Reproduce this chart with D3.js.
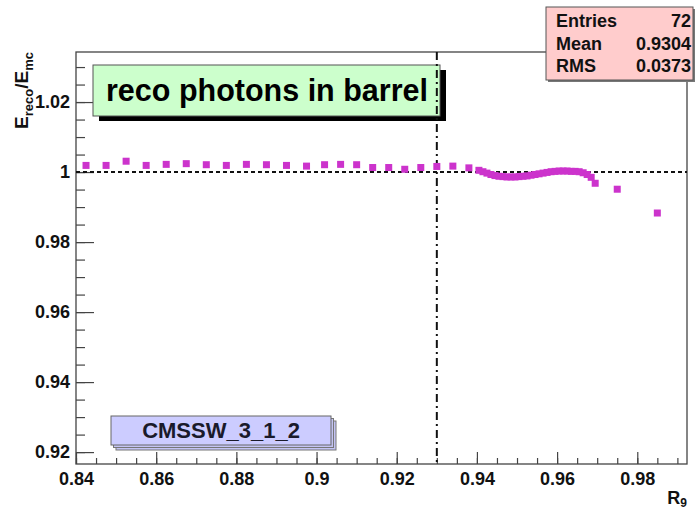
<!DOCTYPE html>
<html>
<head>
<meta charset="utf-8">
<script src="https://cdn.jsdelivr.net/npm/d3@7"></script>
<style>
  body { margin: 0; background: #fff; }
  svg { display: block; font-family: "Liberation Sans", Arial, sans-serif; font-weight: bold; }
</style>
</head>
<body>
<svg id="chart" width="696" height="509"></svg>
<script>
// --------------- Data ---------------
const R9 = [
  0.8425, 0.8475, 0.8525, 0.8575, 0.8625, 0.8675, 0.8725, 0.8775, 0.8825, 0.8875,
  0.8925, 0.8975, 0.902, 0.906, 0.910, 0.914, 0.918, 0.922, 0.926, 0.930, 0.934, 0.938,
  0.9405, 0.9415, 0.9425, 0.9435, 0.9445, 0.9455, 0.9465, 0.9475, 0.9485, 0.9495,
  0.9505, 0.9515, 0.9525, 0.9535, 0.9545, 0.9555, 0.9565, 0.9575, 0.9585, 0.9595,
  0.9605, 0.9615, 0.9625, 0.9635, 0.9645, 0.9655, 0.9665, 0.9675, 0.9685, 0.9695,
  0.975, 0.985
];
const RATIO = [
  1.0019, 1.0019, 1.0031, 1.0019, 1.0022, 1.0024, 1.0021, 1.0019, 1.0022, 1.0021,
  1.0019, 1.0017, 1.0021, 1.0022, 1.0021, 1.0013, 1.0013, 1.0008, 1.0013, 1.0016, 1.0017, 1.0012,
  1.0005, 1.0001, 0.9997, 0.9993, 0.9990, 0.9988, 0.9987, 0.9986, 0.9986, 0.9986,
  0.9987, 0.9988, 0.9989, 0.9991, 0.9993, 0.9995, 0.9997, 0.9999, 1.0001, 1.0002,
  1.0003, 1.0003, 1.0003, 1.0002, 1.0002, 1.0001, 0.9998, 0.9993, 0.9985, 0.9968,
  0.9951, 0.9883
];
const X_TICKS = [0.84, 0.86, 0.88, 0.90, 0.92, 0.94, 0.96, 0.98];
const Y_TICKS = [0.92, 0.94, 0.96, 0.98, 1.00, 1.02];
const X_MINOR = d3.range(0, 31).map((i) => 0.84 + i * 0.005).filter((v) => v < 0.9924);
const Y_MINOR = d3.range(0, 23).map((i) => 0.92 + i * 0.005).filter((v) => v < 1.0343);
const STATS = [["Entries", "72"], ["Mean", "0.9304"], ["RMS", "0.0373"]];
const CUT_R9 = 0.93;
const TITLE = "reco photons in barrel";
const RELEASE = "CMSSW_3_1_2";

// --------------- Layout ---------------
const FRAME = { left: 76, right: 687, top: 52, bottom: 464 };

const svg = d3.select("#chart");

const x = d3.scaleLinear().domain([0.84, 0.9924]).range([FRAME.left, FRAME.right]);
const y = d3.scaleLinear().domain([0.9166, 1.0343]).range([FRAME.bottom, FRAME.top]);

const fmt = (d) => String(+d.toFixed(2));

// frame
svg.append("rect")
  .attr("x", FRAME.left).attr("y", FRAME.top)
  .attr("width", FRAME.right - FRAME.left).attr("height", FRAME.bottom - FRAME.top)
  .attr("fill", "#fff").attr("stroke", "#444").attr("stroke-width", 1.3);

// minor ticks (inside the frame)
svg.append("g")
  .attr("transform", `translate(0,${FRAME.bottom})`)
  .call(d3.axisBottom(x).tickValues(X_MINOR).tickSize(-6).tickFormat(""))
  .call((g) => g.select(".domain").remove());
svg.append("g")
  .attr("transform", `translate(${FRAME.left},0)`)
  .call(d3.axisLeft(y).tickValues(Y_MINOR).tickSize(-9).tickFormat(""))
  .call((g) => g.select(".domain").remove());

// major ticks + labels
const xAxis = svg.append("g")
  .attr("transform", `translate(0,${FRAME.bottom})`)
  .call(d3.axisBottom(x).tickValues(X_TICKS).tickSize(-12).tickPadding(8).tickFormat(fmt));
const yAxis = svg.append("g")
  .attr("transform", `translate(${FRAME.left},0)`)
  .call(d3.axisLeft(y).tickValues(Y_TICKS).tickSize(-18).tickPadding(6).tickFormat(fmt));

[xAxis, yAxis].forEach((g) => {
  g.select(".domain").remove();
  g.selectAll("text").attr("font-size", 18).attr("font-weight", "bold")
    .attr("font-family", "Liberation Sans, Arial, sans-serif").attr("fill", "#111");
});
svg.selectAll(".tick line").attr("stroke", "#444").attr("stroke-width", 1.2);

// axis titles
const yTitle = svg.append("text")
  .attr("transform", `translate(28,${FRAME.top}) rotate(-90)`)
  .attr("text-anchor", "end").attr("font-size", 19).attr("fill", "#111");
yTitle.append("tspan").text("E");
yTitle.append("tspan").attr("font-size", 13).attr("dy", 5).text("reco");
yTitle.append("tspan").attr("dy", -5).text("/E");
yTitle.append("tspan").attr("font-size", 13).attr("dy", 5).text("mc");

const xTitle = svg.append("text")
  .attr("x", FRAME.right).attr("y", 504)
  .attr("text-anchor", "end").attr("font-size", 18).attr("fill", "#111");
xTitle.append("tspan").text("R");
xTitle.append("tspan").attr("font-size", 12).attr("dy", 3).text("9");

// reference lines
svg.append("line")
  .attr("x1", FRAME.left).attr("x2", FRAME.right)
  .attr("y1", y(1)).attr("y2", y(1))
  .attr("stroke", "#111").attr("stroke-width", 2).attr("stroke-dasharray", "4,3");

// title pave
const tb = { x: 93, y: 65, w: 347, h: 51 };
svg.append("rect")
  .attr("x", tb.x + 6).attr("y", tb.y + 5).attr("width", tb.w).attr("height", tb.h)
  .attr("fill", "#000");
svg.append("rect")
  .attr("x", tb.x).attr("y", tb.y).attr("width", tb.w).attr("height", tb.h)
  .attr("fill", "#ccffcc").attr("stroke", "#555").attr("stroke-width", 1);
svg.append("text")
  .attr("x", tb.x + 13).attr("y", tb.y + 36)
  .attr("font-size", 30.5).attr("fill", "#000").text(TITLE);

svg.append("line")
  .attr("x1", x(CUT_R9)).attr("x2", x(CUT_R9))
  .attr("y1", FRAME.top).attr("y2", FRAME.bottom)
  .attr("stroke", "#111").attr("stroke-width", 2).attr("stroke-dasharray", "8,4,2,4");

// points
svg.append("g")
  .selectAll("rect")
  .data(R9.map((r, i) => [r, RATIO[i]]))
  .join("rect")
  .attr("x", (d) => x(d[0]) - 3.5)
  .attr("y", (d) => y(d[1]) - 3.5)
  .attr("width", 7).attr("height", 7)
  .attr("fill", "#cc33cc");

// release label
const cb = { x: 111, y: 416, w: 220, h: 29 };
[5, 2.5].forEach((off) => {
  svg.append("rect")
    .attr("x", cb.x + off).attr("y", cb.y + off).attr("width", cb.w).attr("height", cb.h)
    .attr("fill", "#c4c4f4").attr("stroke", "#777").attr("stroke-width", 1);
});
svg.append("rect")
  .attr("x", cb.x).attr("y", cb.y).attr("width", cb.w).attr("height", cb.h)
  .attr("fill", "#ccccff").attr("stroke", "#666").attr("stroke-width", 1);
svg.append("text")
  .attr("x", cb.x + cb.w / 2).attr("y", cb.y + 22)
  .attr("text-anchor", "middle").attr("font-size", 22).attr("fill", "#1a1a2a")
  .text(RELEASE);

// stats box
const sb = { x: 546, y: 7, w: 147, h: 73 };
svg.append("rect")
  .attr("x", sb.x + 2).attr("y", sb.y + 2).attr("width", sb.w).attr("height", sb.h)
  .attr("fill", "#777");
svg.append("rect")
  .attr("x", sb.x).attr("y", sb.y).attr("width", sb.w).attr("height", sb.h)
  .attr("fill", "#ffcccc").attr("stroke", "#555").attr("stroke-width", 1);
STATS.forEach(([k, v], i) => {
  svg.append("text")
    .attr("x", sb.x + 10).attr("y", sb.y + 20 + i * 22.5)
    .attr("font-size", 18).attr("fill", "#111").text(k);
  svg.append("text")
    .attr("x", sb.x + sb.w - 2).attr("y", sb.y + 20 + i * 22.5)
    .attr("text-anchor", "end").attr("font-size", 18).attr("fill", "#111").text(v);
});
</script>
</body>
</html>
